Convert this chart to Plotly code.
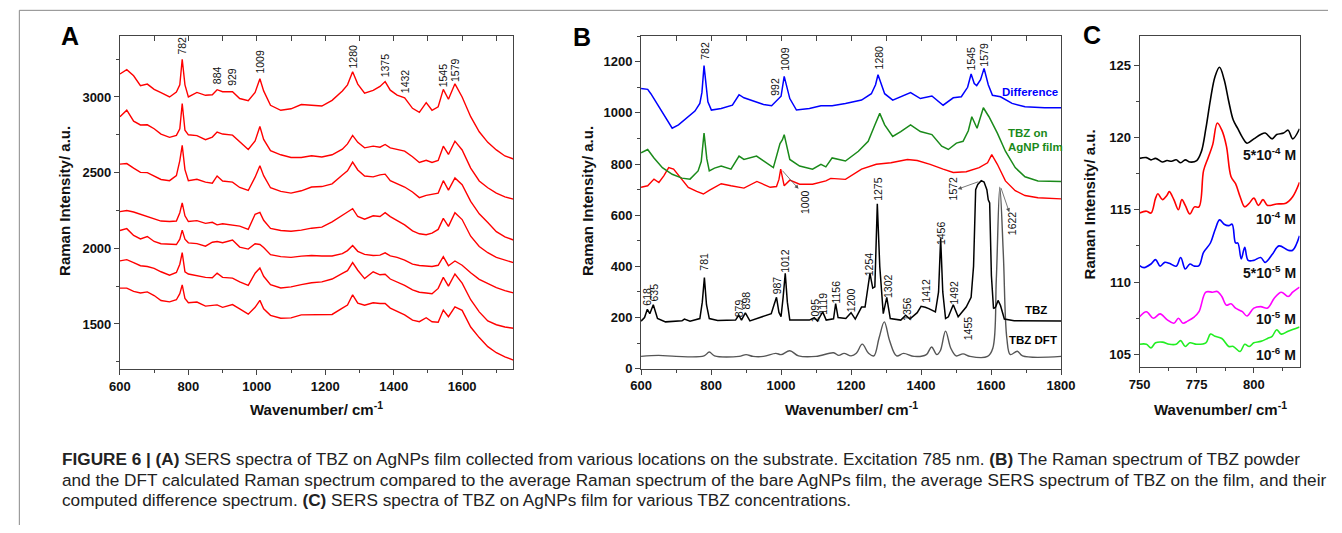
import plotly.graph_objects as go

# ---------------- Panel A data (SERS spectra, 7 locations) ----------------
A_WN = [600, 620, 640, 660, 680, 700, 720, 745, 765, 775, 782, 790, 800, 825, 850, 870, 884, 900, 929,
        950, 975, 995, 1009, 1020, 1040, 1070, 1100, 1130, 1160, 1190, 1220, 1250, 1265, 1280, 1295,
        1315, 1340, 1360, 1375, 1390, 1410, 1432, 1455, 1475, 1495, 1512, 1530, 1545, 1560, 1579,
        1600, 1625, 1650, 1675, 1700, 1725, 1750]
A_S1 = [3152, 3180, 3140, 3075, 3085, 3050, 3028, 3000, 3032, 3080, 3249, 3080, 3000, 3030, 3011, 3015,
        3048, 3035, 3035, 2990, 2975, 3030, 3120, 3040, 2945, 2912, 2922, 2950, 2945, 2940, 2978, 3040,
        3080, 3167, 3085, 3025, 3043, 3070, 3102, 3045, 3012, 2995, 2925, 2898, 2963, 2912, 2935, 3050,
        2985, 3087, 3000, 2870, 2770, 2700, 2650, 2610, 2590]
A_S2 = [2870, 2913, 2840, 2815, 2816, 2790, 2755, 2733, 2746, 2790, 2957, 2780, 2750, 2745, 2718, 2735,
        2768, 2755, 2748, 2705, 2653, 2710, 2805, 2720, 2645, 2618, 2600, 2600, 2612, 2603, 2618, 2655,
        2690, 2746, 2700, 2664, 2675, 2668, 2686, 2664, 2655, 2642, 2605, 2567, 2582, 2567, 2580, 2675,
        2620, 2708, 2650, 2530, 2445, 2400, 2365, 2340, 2325]
A_S3 = [2556, 2560, 2530, 2502, 2500, 2478, 2455, 2447, 2480, 2580, 2680, 2520, 2447, 2456, 2437, 2430,
        2478, 2445, 2437, 2402, 2382, 2470, 2545, 2480, 2400, 2376, 2365, 2380, 2405, 2408, 2426, 2485,
        2512, 2570, 2518, 2478, 2472, 2485, 2490, 2447, 2428, 2405, 2372, 2335, 2350, 2356, 2365, 2447,
        2385, 2465, 2420, 2310, 2228, 2170, 2110, 2075, 2055]
A_S4 = [2242, 2250, 2240, 2225, 2209, 2192, 2180, 2177, 2180, 2235, 2300, 2215, 2177, 2183, 2165, 2172,
        2155, 2162, 2155, 2147, 2125, 2225, 2237, 2185, 2132, 2118, 2113, 2120, 2133, 2140, 2175, 2215,
        2240, 2262, 2210, 2192, 2215, 2210, 2235, 2209, 2185, 2155, 2115, 2096, 2090, 2100, 2125, 2198,
        2145, 2235, 2190, 2080, 2012, 1971, 1940, 1920, 1905]
A_S5 = [2118, 2130, 2085, 2062, 2078, 2045, 2030, 2025, 2025, 2060, 2120, 2060, 2036, 2031, 2014, 2040,
        2045, 2037, 2055, 2008, 1995, 2030, 2025, 2005, 1958, 1945, 1940, 1948, 1952, 1949, 1949, 1965,
        1985, 2018, 1980, 1960, 1953, 1955, 1970, 1950, 1940, 1922, 1895, 1886, 1882, 1880, 1888, 1945,
        1885, 1916, 1888, 1838, 1795, 1765, 1740, 1720, 1705]
A_S6 = [1917, 1925, 1905, 1885, 1880, 1868, 1845, 1822, 1840, 1895, 1971, 1845, 1830, 1818, 1808, 1805,
        1836, 1808, 1803, 1778, 1755, 1835, 1870, 1815, 1760, 1738, 1745, 1760, 1772, 1778, 1797, 1835,
        1852, 1906, 1855, 1800, 1845, 1825, 1828, 1797, 1778, 1755, 1725, 1710, 1705, 1700, 1735, 1808,
        1750, 1830, 1770, 1660, 1580, 1520, 1495, 1480, 1472]
A_S7 = [1737, 1737, 1715, 1705, 1712, 1688, 1655, 1646, 1660, 1700, 1758, 1668, 1640, 1645, 1618, 1620,
        1626, 1610, 1628, 1600, 1565, 1610, 1656, 1600, 1557, 1538, 1540, 1560, 1562, 1560, 1563, 1605,
        1625, 1693, 1638, 1624, 1640, 1635, 1636, 1605, 1585, 1560, 1525, 1515, 1541, 1515, 1512, 1592,
        1548, 1613, 1590, 1480, 1410, 1350, 1310, 1282, 1261]
A_SERIES = [A_S1, A_S2, A_S3, A_S4, A_S5, A_S6, A_S7]
A_PEAKS = ["782", "884", "929", "1009", "1280", "1375", "1432", "1545", "1579"]
A_PEAK_X = [782, 884, 929, 1009, 1280, 1375, 1432, 1545, 1579]
A_PEAK_LABEL_Y = [3341, 3145, 3130, 3233, 3265, 3210, 3102, 3145, 3178]

# ---------------- Panel B data ----------------
B_DIFF_X = [600, 619, 628, 651, 670, 689, 707, 731, 754, 768, 774, 780, 786, 791, 801, 829, 861, 880, 894, 913,
            931, 950, 973, 992, 1000, 1009, 1018, 1025, 1044, 1081, 1114, 1146, 1184, 1230, 1258, 1270, 1277,
            1286, 1296, 1319, 1342, 1370, 1398, 1431, 1463, 1492, 1515, 1533, 1543, 1552, 1559, 1570, 1580,
            1592, 1604, 1627, 1660, 1697, 1753, 1800]
B_DIFF_Y = [1095, 1092, 1075, 1024, 979, 940, 953, 979, 1007, 1037, 1080, 1185, 1110, 1043, 1011, 1017, 1030,
            1071, 1059, 1050, 1043, 1033, 1028, 1056, 1065, 1143, 1090, 1056, 1011, 1017, 1028, 1028, 1037,
            1050, 1075, 1110, 1149, 1110, 1075, 1050, 1063, 1079, 1056, 1066, 1030, 1059, 1063, 1100, 1152,
            1115, 1107, 1130, 1174, 1110, 1069, 1063, 1037, 1024, 1020, 1020]
B_ONFILM_X = [600, 619, 637, 661, 689, 717, 740, 763, 772, 780, 788, 795, 810, 829, 857, 880, 894, 908, 930,
              950, 978, 997, 1004, 1009, 1017, 1025, 1053, 1090, 1114, 1128, 1146, 1184, 1221, 1249, 1268,
              1282, 1296, 1319, 1342, 1370, 1398, 1431, 1459, 1478, 1501, 1520, 1535, 1545, 1560, 1578,
              1594, 1618, 1641, 1669, 1697, 1734, 1800]
B_ONFILM_Y = [844, 857, 824, 786, 760, 745, 741, 773, 810, 921, 820, 773, 784, 792, 780, 831, 818, 822, 831,
              812, 786, 880, 895, 915, 860, 818, 792, 780, 799, 789, 824, 812, 850, 889, 953, 998, 953, 908,
              927, 953, 927, 915, 870, 857, 882, 889, 930, 985, 940, 1020, 985, 921, 850, 786, 750, 734, 732]
B_FILM_X = [600, 619, 637, 651, 665, 679, 693, 712, 735, 759, 778, 796, 829, 857, 894, 931, 969, 987, 994,
            999, 1004, 1009, 1025, 1053, 1090, 1128, 1142, 1184, 1230, 1272, 1314, 1361, 1389, 1426, 1463,
            1492, 1529, 1566, 1590, 1602, 1618, 1641, 1669, 1697, 1734, 1800]
B_FILM_Y = [709, 715, 741, 728, 754, 786, 780, 747, 709, 693, 683, 698, 723, 715, 706, 732, 709, 712, 740,
            780, 745, 715, 737, 721, 721, 734, 744, 740, 780, 799, 805, 818, 814, 799, 780, 767, 770, 786,
            805, 837, 799, 734, 696, 677, 668, 664]
B_TBZ_X = [600, 610, 618, 625, 635, 647, 670, 717, 724, 740, 768, 775, 781, 787, 795, 819, 870, 879, 887, 898,
           911, 960, 972, 980, 987, 994, 1000, 1006, 1012, 1018, 1025, 1081, 1095, 1104, 1119, 1129, 1150,
           1156, 1163, 1185, 1200, 1212, 1230, 1240, 1248, 1254, 1262, 1268, 1275, 1282, 1292, 1302, 1312,
           1342, 1356, 1368, 1389, 1400, 1412, 1422, 1441, 1450, 1456, 1462, 1470, 1478, 1492, 1506, 1529,
           1543, 1550, 1556, 1562, 1572, 1580, 1588, 1592, 1596, 1601, 1607, 1613, 1620, 1627, 1638, 1666, 1800]
B_TBZ_Y = [186, 200, 232, 215, 250, 196, 183, 187, 194, 186, 196, 260, 356, 250, 196, 188, 190, 209, 190, 218,
           187, 209, 215, 250, 279, 220, 203, 280, 373, 260, 190, 190, 199, 186, 222, 190, 195, 254, 200, 196,
           219, 194, 241, 241, 330, 373, 315, 320, 645, 400, 215, 279, 196, 190, 209, 194, 219, 244, 240, 235,
           222, 300, 510, 300, 196, 203, 250, 203, 241, 279, 401, 700, 720, 735, 730, 700, 660, 648, 363, 235,
           241, 267, 247, 194, 187, 186]
B_DFT_X = [600, 650, 700, 780, 795, 810, 880, 900, 920, 950, 985, 1000, 1025, 1050, 1100, 1150, 1165, 1180,
           1200, 1215, 1232, 1250, 1265, 1280, 1295, 1310, 1330, 1350, 1380, 1415, 1430, 1445, 1455, 1470,
           1485, 1500, 1520, 1540, 1590, 1605, 1615, 1625, 1635, 1645, 1655, 1675, 1690, 1800]
B_DFT_Y = [48, 52, 48, 50, 65, 50, 48, 55, 48, 48, 60, 55, 70, 50, 48, 62, 52, 60, 50, 60, 96, 60, 50, 120,
           183, 110, 50, 60, 48, 55, 85, 55, 70, 147, 80, 50, 58, 48, 48, 80, 350, 709, 450, 120, 55, 68, 50, 48]
B_PEAKS = ["782", "992", "1009", "1280", "1545", "1579", "1000", "1275", "1572", "1622", "1456",
           "781", "1012", "1254", "1302", "987", "618", "635", "879", "898", "1095", "1119", "1156",
           "1200", "1356", "1412", "1492", "1455"]
B_PEAK_X = [782, 982, 1009, 1280, 1542, 1580, 1068, 1277, 1490, 1662, 1457,
            781, 1013, 1251, 1306, 987, 616, 638, 879, 900, 1097, 1120, 1158,
            1202, 1358, 1414, 1495, 1534]
B_PEAK_LABEL_Y = [1242, 1101, 1212, 1217, 1212, 1228, 651, 703, 703, 568, 530,
                  420, 420, 408, 324, 324, 280, 299, 235, 267, 228, 254, 299,
                  267, 235, 305, 299, 158]

# ---------------- Panel C data ----------------
C_BLACK_X = [750, 753, 755, 757, 760, 762, 764, 766, 768, 770, 772, 775, 777, 779, 781, 783, 785, 787, 789,
             791, 793, 795, 797, 800, 803, 805, 808, 810, 813, 815, 817, 820]
C_BLACK_Y = [118.55, 118.6, 118.45, 118.55, 118.3, 118.4, 118.35, 118.45, 118.25, 118.45, 118.3, 118.4, 119.0,
             120.6, 122.6, 124.2, 124.85, 124.0, 122.5, 121.2, 120.6, 120.0, 119.6, 119.9, 120.2, 120.3, 119.9,
             120.2, 120.3, 120.5, 119.9, 120.6]
C_RED_X = [750, 753, 755, 757, 758, 760, 762, 763, 765, 767, 768.5, 770, 772, 774, 776, 778, 780, 782, 784,
           786, 788, 790, 792, 794, 796, 798, 800, 802, 804, 806, 810, 814, 817, 820]
C_RED_Y = [114.77, 114.9, 114.77, 115.8, 116.1, 115.7, 116.0, 116.25, 115.7, 115.0, 115.7, 115.3, 114.7, 115.2,
           115.2, 117.7, 118.6, 119.5, 121.0, 120.5, 119.4, 117.3, 116.8, 115.9, 115.2, 115.45, 115.8, 115.3,
           115.7, 115.3, 115.4, 115.45, 115.9, 116.9]
C_BLUE_X = [750, 752, 755, 757, 759, 761, 763, 766, 768, 770, 772, 774, 776, 778, 781, 783, 785, 787, 789,
            790.5, 792, 793, 794.5, 796, 797.5, 800, 803, 805, 808, 811, 815, 817, 820]
C_BLUE_Y = [111.14, 111.0, 111.25, 111.55, 111.1, 111.36, 111.3, 111.1, 111.7, 110.9, 111.25, 111.1, 111.14,
            112.05, 112.7, 113.6, 114.3, 114.0, 113.9, 114.0, 112.7, 112.7, 111.6, 112.4, 111.5, 111.5, 111.7,
            111.36, 111.9, 112.5, 112.2, 112.2, 113.2]
C_MAG_X = [750, 753, 756, 759, 762, 765, 767, 769, 771, 774, 776, 779, 782, 784, 786, 788, 790, 792, 795, 797,
           800, 803, 806, 809, 812, 815, 817, 820]
C_MAG_Y = [107.6, 107.95, 107.5, 107.8, 107.4, 107.15, 107.5, 107.15, 107.3, 107.6, 107.95, 109.3, 109.3,
           109.35, 109.0, 108.4, 108.5, 108.2, 107.95, 107.65, 108.2, 108.3, 108.2, 108.9, 109.3, 109.0, 109.3,
           109.65]
C_GREEN_X = [750, 753, 755, 757, 760, 763, 766, 768, 770, 772, 775, 779, 781, 783, 786, 789, 791, 794, 796,
             798, 800, 803, 806, 808, 810, 812, 815, 820]
C_GREEN_Y = [105.7, 105.7, 105.45, 105.8, 105.85, 105.7, 105.7, 105.95, 105.55, 105.8, 105.7, 105.8, 106.4,
             106.25, 106.1, 105.55, 105.55, 105.2, 105.7, 105.55, 105.8, 105.9, 106.1, 106.25, 106.7, 106.4,
             106.6, 106.9]
C_LABELS = ["5*10<sup>-4</sup> M", "10<sup>-4</sup> M", "5*10<sup>-5</sup> M", "10<sup>-5</sup> M",
            "10<sup>-6</sup> M"]
C_LABEL_Y = [118.86, 114.43, 110.69, 107.5, 105.0]

CAPTION = [
    "<b>FIGURE 6 | (A)</b> SERS spectra of TBZ on AgNPs film collected from various locations on the substrate. "
    "Excitation 785 nm. <b>(B)</b> The Raman spectrum of TBZ powder",
    "and the DFT calculated Raman spectrum compared to the average Raman spectrum of the bare AgNPs film, "
    "the average SERS spectrum of TBZ on the film, and their",
    "computed difference spectrum. <b>(C)</b> SERS spectra of TBZ on AgNPs film for various TBZ concentrations.",
]

# ---------------- figure ----------------
W, H = 1342, 533
FONT = "Liberation Sans, Arial, sans-serif"


def fx(p):
    return p / W


def fy(p):
    return 1 - p / H


fig = go.Figure()


def line(x, y, color, xa, ya, width=1.5, shape="linear"):
    fig.add_trace(go.Scatter(x=x, y=y, mode="lines", line=dict(color=color, width=width, shape=shape),
                             xaxis=xa, yaxis=ya, showlegend=False, hoverinfo="skip"))


for s in A_SERIES:
    line(A_WN, s, "#ff0000", "x", "y", 1.4)

line(B_DFT_X, B_DFT_Y, "#555555", "x2", "y2", 1.4, "spline")
line(B_TBZ_X, B_TBZ_Y, "#000000", "x2", "y2", 1.5)
line(B_FILM_X, B_FILM_Y, "#ff0000", "x2", "y2", 1.4)
line(B_ONFILM_X, B_ONFILM_Y, "#1a8a1a", "x2", "y2", 1.5)
line(B_DIFF_X, B_DIFF_Y, "#0000ff", "x2", "y2", 1.5)

line(C_BLACK_X, C_BLACK_Y, "#000000", "x3", "y3", 1.6, "spline")
line(C_RED_X, C_RED_Y, "#ff0000", "x3", "y3", 1.6, "spline")
line(C_BLUE_X, C_BLUE_Y, "#0000ff", "x3", "y3", 1.6, "spline")
line(C_MAG_X, C_MAG_Y, "#ff00ff", "x3", "y3", 1.6, "spline")
line(C_GREEN_X, C_GREEN_Y, "#22ee22", "x3", "y3", 1.6, "spline")

AX = dict(showline=True, mirror=True, linecolor="#444444", linewidth=1, ticks="outside", ticklen=5,
          tickcolor="#444444", showgrid=False, zeroline=False,
          tickfont=dict(family=FONT, size=13, color="#111111", weight="bold"))

fig.update_layout(
    width=W, height=H, margin=dict(l=0, r=0, t=0, b=0),
    paper_bgcolor="white", plot_bgcolor="white",
    xaxis=dict(AX, domain=[fx(111), fx(512)], range=[600, 1750], anchor="y", tickvals=[600, 800, 1000, 1200, 1400, 1600],
               minor=dict(dtick=100, tick0=600, ticks="outside", ticklen=3, tickcolor="#444444")),
    yaxis=dict(AX, domain=[fy(375), fy(37)], range=[1200, 3400], anchor="x", tickvals=[1500, 2000, 2500, 3000],
               minor=dict(dtick=250, tick0=1250, ticks="outside", ticklen=3, tickcolor="#444444")),
    xaxis2=dict(AX, domain=[fx(642), fx(1070)], range=[600, 1800], anchor="y2", dtick=200,
                minor=dict(dtick=100, ticks="outside", ticklen=3, tickcolor="#444444")),
    yaxis2=dict(AX, domain=[fy(374.3), fy(36.7)], range=[0, 1300], anchor="x2", tickvals=[0, 200, 400, 600, 800, 1000, 1200],
                minor=dict(dtick=100, ticks="outside", ticklen=3, tickcolor="#444444")),
    xaxis3=dict(AX, domain=[fx(1150), fx(1313)], range=[750, 820], anchor="y3", tickvals=[750, 775, 800],
                minor=dict(dtick=12.5, tick0=750, ticks="outside", ticklen=3, tickcolor="#444444")),
    yaxis3=dict(AX, domain=[fy(373), fy(36.7)], range=[104.1, 127], anchor="x3", tickvals=[105, 110, 115, 120, 125],
                minor=dict(dtick=2.5, tick0=102.5, ticks="outside", ticklen=3, tickcolor="#444444")),
    xaxis4=dict(overlaying="x", side="top", anchor="y", range=[600, 1750], tickvals=list(range(700, 1750, 100)),
                ticks="inside", ticklen=5, tickcolor="#444444", showticklabels=False, showgrid=False,
                zeroline=False, showline=False),
    xaxis5=dict(overlaying="x2", side="top", anchor="y2", range=[600, 1800], tickvals=list(range(700, 1800, 100)),
                ticks="inside", ticklen=5, tickcolor="#444444", showticklabels=False, showgrid=False,
                zeroline=False, showline=False),
)
# invisible traces so the top tick axes render
fig.add_trace(go.Scatter(x=[600], y=[1200], xaxis="x4", yaxis="y", mode="markers", marker=dict(opacity=0),
                         showlegend=False, hoverinfo="skip"))
fig.add_trace(go.Scatter(x=[600], y=[0], xaxis="x5", yaxis="y2", mode="markers", marker=dict(opacity=0),
                         showlegend=False, hoverinfo="skip"))

ann = []


def txt(text, x, y, xref="paper", yref="paper", size=13, color="#111111", bold=False, angle=0,
        xanchor="center", yanchor="middle", family=FONT):
    ann.append(dict(text=text, x=x, y=y, xref=xref, yref=yref, showarrow=False, textangle=angle,
                    xanchor=xanchor, yanchor=yanchor,
                    font=dict(family=family, size=size, color=color, weight="bold" if bold else "normal")))


# panel letters
txt("A", fx(60), fy(37), size=25, bold=True, color="#000000")
txt("B", fx(582), fy(38), size=25, bold=True, color="#000000")
txt("C", fx(1102), fy(36), size=25, bold=True, color="#000000")

# axis titles
for cx in (fx(311), fx(856), fx(1232)):
    txt("Wavenumber/ cm<sup>-1</sup>", cx, fy(415), size=15, bold=True, color="#111111")
txt("Raman Intensity/ a.u.", fx(55), fy(204), size=15, bold=True, angle=-90)
txt("Raman Intensity/ a.u.", fx(588), fy(204), size=15, bold=True, angle=-90)
txt("Raman Intensity/ a.u.", fx(1099), fy(208), size=15, bold=True, angle=-90)

# peak labels
for t, x, y in zip(A_PEAKS, A_PEAK_X, A_PEAK_LABEL_Y):
    txt(t, x, y, xref="x", yref="y", size=10.5, angle=-90)
for t, x, y in zip(B_PEAKS, B_PEAK_X, B_PEAK_LABEL_Y):
    txt(t, x, y, xref="x2", yref="y2", size=10.5, angle=-90)

# series labels in B
txt("Difference", 1796, 1083, "x2", "y2", size=11.5, bold=True, color="#0000ff", xanchor="right")
txt("TBZ on", 1643, 920, "x2", "y2", size=11.5, bold=True, color="#1a8a1a", xanchor="left")
txt("AgNP film", 1643, 866, "x2", "y2", size=11.5, bold=True, color="#1a8a1a", xanchor="left")
txt("AgNP film", 1802, 641, "x2", "y2", size=11.5, bold=True, color="#ff0000", xanchor="right")
txt("TBZ", 1766, 228, "x2", "y2", size=11.5, bold=True, color="#000000", xanchor="right")
txt("TBZ DFT", 1794, 113, "x2", "y2", size=11.5, bold=True, color="#000000", xanchor="right")

# arrows in B
for hx, hy, tx, ty in [(1050, 703, 1000, 780), (1505, 702, 1568, 733), (1652, 612, 1627, 712)]:
    ann.append(dict(x=hx, y=hy, ax=tx, ay=ty, xref="x2", yref="y2", axref="x2", ayref="y2", text="",
                    showarrow=True, arrowhead=2, arrowsize=1, arrowwidth=0.8, arrowcolor="#555555"))

# concentration labels in C
for t, y in zip(C_LABELS, C_LABEL_Y):
    txt(t, 819.5, y, "x3", "y3", size=14, bold=True, color="#111111", xanchor="right")

# caption
for i, c in enumerate(CAPTION):
    txt(c, fx(50), fy(466 + 21 * i), size=17.2, color="#222222", xanchor="left")

fig.update_layout(annotations=ann)

# frame
fig.update_layout(shapes=[
    dict(type="line", xref="paper", yref="paper", x0=fx(8.5), x1=fx(8.5), y0=0, y1=fy(10.5),
         line=dict(color="#888888", width=1)),
    dict(type="line", xref="paper", yref="paper", x0=fx(8.5), x1=1, y0=fy(10.5), y1=fy(10.5),
         line=dict(color="#888888", width=1)),
])

fig.write_html("out.html", config={"displayModeBar": False},
               post_script="document.body.style.margin='0';document.body.style.overflow='hidden';")
